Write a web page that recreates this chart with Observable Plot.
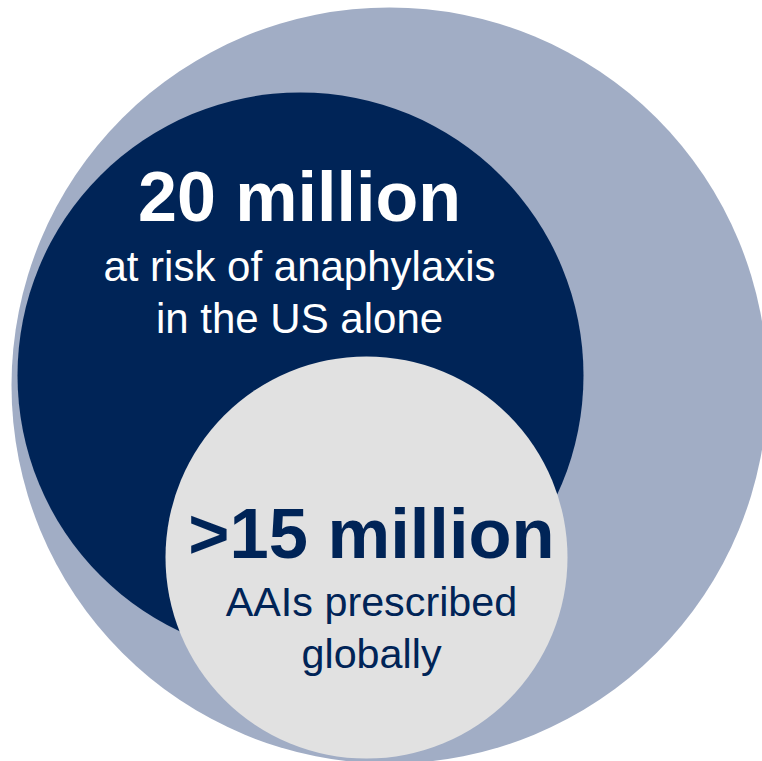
<!DOCTYPE html>
<html>
<head>
<meta charset="utf-8">
<script src="https://cdn.jsdelivr.net/npm/d3@7"></script>
<script src="https://cdn.jsdelivr.net/npm/@observablehq/plot@0.6"></script>
<style>
  html, body { margin: 0; padding: 0; background: #ffffff; }
  #chart svg { display: block; overflow: hidden; }
</style>
</head>
<body>
<div id="chart"></div>
<script>
// ---- data ----
const circleNames = ["Total population", "At risk of anaphylaxis (US)", "AAIs prescribed globally"];
const headlines = ["", "20 million", ">15 million"];
const subLines1 = ["", "at risk of anaphylaxis", "AAIs prescribed"];
const subLines2 = ["", "in the US alone", "globally"];
const circleColors = ["#a1adc5", "#002457", "#e1e1e1"];
const textColors = ["", "#ffffff", "#002457"];

// ---- layout (px geometry for the nested circles) ----
const W = 762, H = 761;
const layout = [
  {cx: 389, cy: 385, r: 378},
  {cx: 300, cy: 375, r: 283},
  {cx: 366, cy: 557, r: 201}
];
const textLayout = [
  null,
  {x: 299, head: 220, l1: 280, l2: 332, hs: 70, ss: 42},
  {x: 371, head: 557, l1: 615, l2: 667, hs: 70.5, ss: 41.3}
];

const circles = circleNames.map((name, i) => ({name, color: circleColors[i], ...layout[i]}));
const texts = [];
for (let i = 1; i < circleNames.length; i++) {
  const t = textLayout[i];
  texts.push({text: headlines[i], x: t.x, y: t.head, size: t.hs, weight: "bold", color: textColors[i]});
  texts.push({text: subLines1[i], x: t.x, y: t.l1, size: t.ss, weight: "normal", color: textColors[i]});
  texts.push({text: subLines2[i], x: t.x, y: t.l2, size: t.ss, weight: "normal", color: textColors[i]});
}

const font = "'Liberation Sans', Arial, Helvetica, sans-serif";

const chart = Plot.plot({
  width: W,
  height: H,
  margin: 0,
  style: {fontFamily: font, background: "#ffffff"},
  x: {domain: [0, W], range: [0, W], axis: null},
  y: {domain: [0, H], range: [0, H], axis: null},
  r: {type: "identity"},
  marks: [
    Plot.dot(circles, {x: "cx", y: "cy", r: "r", fill: d => d.color, stroke: null}),
    ...texts.map(t => Plot.text([t], {
      x: "x", y: "y", text: "text",
      fontSize: t.size, fontWeight: t.weight, fill: t.color,
      fontFamily: font, textAnchor: "middle", lineAnchor: "bottom"
    }))
  ]
});
document.getElementById("chart").appendChild(chart);
</script>
</body>
</html>
